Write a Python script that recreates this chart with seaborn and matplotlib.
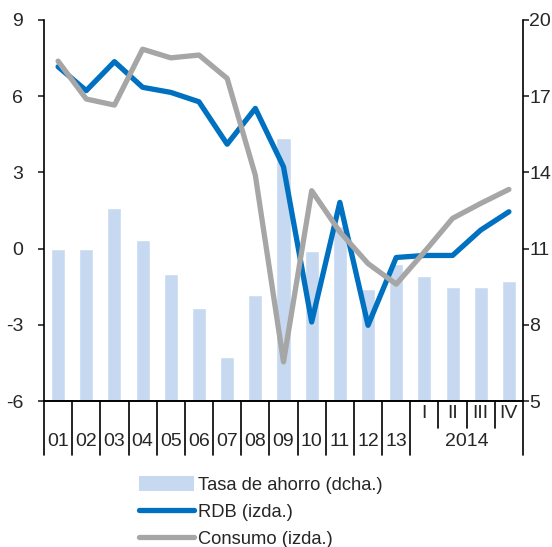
import numpy as np
import pandas as pd
import matplotlib
matplotlib.use("Agg")
import matplotlib.pyplot as plt
import matplotlib.transforms as mtransforms
import seaborn as sns
from matplotlib.patches import Patch
from matplotlib.lines import Line2D

# --- Data ---
cats = ["01", "02", "03", "04", "05", "06", "07", "08", "09", "10", "11", "12", "13",
        "I", "II", "III", "IV"]
year_labels = ["01", "02", "03", "04", "05", "06", "07", "08", "09", "10", "11", "12", "13"]
quarter_labels = ["I", "II", "III", "IV"]
year_2014 = "2014"

rdb = [7.16, 6.22, 7.36, 6.35, 6.15, 5.78, 4.11, 5.52, 3.22, -2.89, 1.82, -3.02,
       -0.35, -0.27, -0.27, 0.73, 1.45]
consumo = [7.38, 5.89, 5.65, 7.85, 7.51, 7.62, 6.70, 2.89, -4.46, 2.28, 0.66, -0.59,
           -1.40, -0.13, 1.19, 1.78, 2.33]
ahorro = [11.0, 11.0, 12.6, 11.34, 10.0, 8.67, 6.72, 9.18, 15.36, 10.91, 11.9, 9.41,
          10.39, 9.93, 9.49, 9.49, 9.72]

BLUE = "#0070C0"
GREY = "#A6A6A6"
BAR = "#C6D9F1"

sns.set_style("white")
plt.rcParams["font.family"] = ["Liberation Sans", "DejaVu Sans"]
plt.rcParams["axes.unicode_minus"] = False
FS = 14

df = pd.DataFrame({"cat": cats, "pos": np.arange(len(cats)),
                   "rdb": rdb, "consumo": consumo, "ahorro": ahorro})

fig = plt.figure(figsize=(5.52, 5.47), dpi=100)
ax = fig.add_axes([44 / 552, 1 - 401 / 547, 479 / 552, 381 / 547])
ax2 = ax.twinx()

# bars on the right axis
sns.barplot(data=df, x="pos", y="ahorro", ax=ax2, color=BAR, width=0.5,
            saturation=1, native_scale=True)

# lines on the left axis
sns.lineplot(data=df, x="pos", y="rdb", ax=ax, color=BLUE, lw=3.8, sort=False,
             solid_capstyle="round")
sns.lineplot(data=df, x="pos", y="consumo", ax=ax, color=GREY, lw=3.8, sort=False,
             solid_capstyle="round")

ax.set_zorder(ax2.get_zorder() + 1)
ax.patch.set_visible(False)

n = len(cats)
for a in (ax, ax2):
    a.set_xlim(-0.5, n - 0.5)
    a.set_xlabel("")
    a.set_ylabel("")
    a.set_xticks([])
    a.spines["top"].set_visible(False)
    for s in a.spines.values():
        s.set_color("black")
        s.set_linewidth(1.2)

ax.set_ylim(-6, 9)
ax.set_yticks([-6, -3, 0, 3, 6, 9])
ax2.set_ylim(5, 20)
ax2.set_yticks([5, 8, 11, 14, 17, 20])
ax.tick_params(axis="y", direction="out", length=4, width=1.2, labelsize=FS, pad=11,
               left=True, right=False)
ax2.tick_params(axis="y", direction="out", length=4, width=1.2, labelsize=FS, pad=0.5,
                right=True, left=False)
ax.spines["right"].set_visible(False)
ax2.spines["left"].set_visible(False)

# two-level category axis
trans = mtransforms.blended_transform_factory(ax.transData, ax.transAxes)
row1 = -0.032
row2 = -0.106
full = -0.143
short = -0.072
for i in range(n + 1):
    x = i - 0.5
    in_quarters = len(year_labels) < i < n
    ax.plot([x, x], [0, short if in_quarters else full], color="black", lw=1.2,
            transform=trans, clip_on=False)
for i, lab in enumerate(year_labels):
    ax.text(i, row2, lab, transform=trans, ha="center", va="center", fontsize=FS)
for j, lab in enumerate(quarter_labels):
    ax.text(len(year_labels) + j, row1, lab, transform=trans, ha="center", va="center",
            fontsize=FS)
ax.text(len(year_labels) + (len(quarter_labels) - 1) / 2, row2, year_2014,
        transform=trans, ha="center", va="center", fontsize=FS)

handles = [Patch(facecolor=BAR, edgecolor="none"),
           Line2D([], [], color=BLUE, lw=3.8, solid_capstyle="round"),
           Line2D([], [], color=GREY, lw=3.8, solid_capstyle="round")]
labels = ["Tasa de ahorro (dcha.)", "RDB (izda.)", "Consumo (izda.)"]
fig.legend(handles, labels, loc="upper left", bbox_to_anchor=(139 / 552, 1 - 476 / 547),
           frameon=False, fontsize=13.2, handlelength=3.0, handleheight=0.9,
           handletextpad=0.2, labelspacing=0.5, borderaxespad=0, borderpad=0)

fig.savefig("out.png", dpi=100)
